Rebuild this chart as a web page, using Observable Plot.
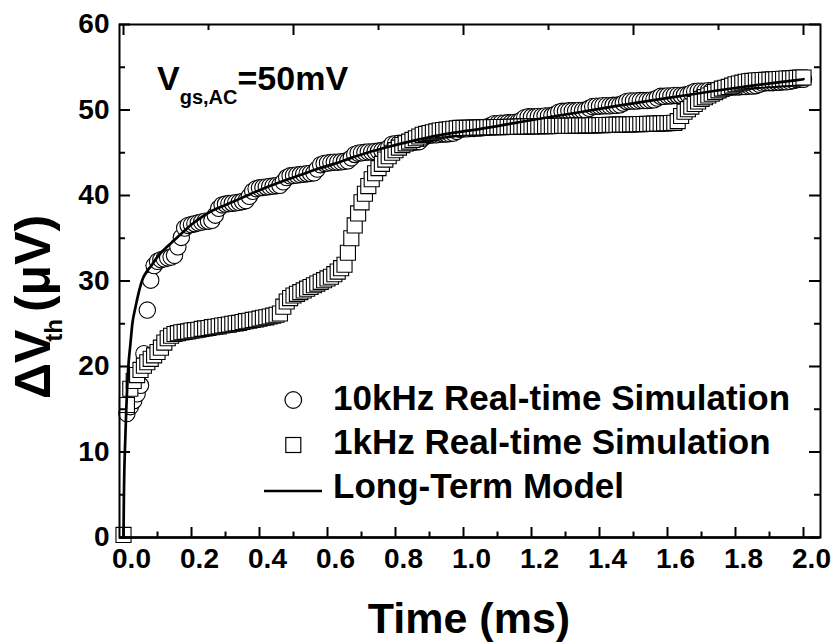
<!DOCTYPE html>
<html><head><meta charset="utf-8">
<script src="https://cdn.jsdelivr.net/npm/d3@7"></script>
<script src="https://cdn.jsdelivr.net/npm/@observablehq/plot@0.6"></script>
<style>
html,body{margin:0;padding:0;background:#fff;}
#chart svg{display:block;}
</style>
</head><body><div id="chart"></div>
<script>
// Sampling times (ms) shared by both simulations
const time = [
0,0.01,0.02,0.03,0.04,0.05,0.06,0.07,0.08,0.09,
0.1,0.11,0.12,0.13,0.14,0.15,0.16,0.17,0.18,0.19,
0.2,0.21,0.22,0.23,0.24,0.25,0.26,0.27,0.28,0.29,
0.3,0.31,0.32,0.33,0.34,0.35,0.36,0.37,0.38,0.39,
0.4,0.41,0.42,0.43,0.44,0.45,0.46,0.47,0.48,0.49,
0.5,0.51,0.52,0.53,0.54,0.55,0.56,0.57,0.58,0.59,
0.6,0.61,0.62,0.63,0.64,0.65,0.66,0.67,0.68,0.69,
0.7,0.71,0.72,0.73,0.74,0.75,0.76,0.77,0.78,0.79,
0.8,0.81,0.82,0.83,0.84,0.85,0.86,0.87,0.88,0.89,
0.9,0.91,0.92,0.93,0.94,0.95,0.96,0.97,0.98,0.99,
1.0,1.01,1.02,1.03,1.04,1.05,1.06,1.07,1.08,1.09,
1.1,1.11,1.12,1.13,1.14,1.15,1.16,1.17,1.18,1.19,
1.2,1.21,1.22,1.23,1.24,1.25,1.26,1.27,1.28,1.29,
1.3,1.31,1.32,1.33,1.34,1.35,1.36,1.37,1.38,1.39,
1.4,1.41,1.42,1.43,1.44,1.45,1.46,1.47,1.48,1.49,
1.5,1.51,1.52,1.53,1.54,1.55,1.56,1.57,1.58,1.59,
1.6,1.61,1.62,1.63,1.64,1.65,1.66,1.67,1.68,1.69,
1.7,1.71,1.72,1.73,1.74,1.75,1.76,1.77,1.78,1.79,
1.8,1.81,1.82,1.83,1.84,1.85,1.86,1.87,1.88,1.89,
1.9,1.91,1.92,1.93,1.94,1.95,1.96,1.97,1.98,1.99,
2.0];

// 10kHz real-time simulation (µV)
const sim10kHz = [
null,14.5,15.3,16.0,16.8,17.8,21.5,26.6,30.1,31.8,
32.3,32.5,32.6,32.7,32.8,33.0,34.0,35.1,36.2,36.5,
36.6,36.7,36.8,36.9,37.0,37.0,37.1,37.7,38.5,38.9,
39.0,39.05,39.1,39.15,39.2,39.3,39.4,39.9,40.5,40.8,
40.9,40.95,41.0,41.05,41.1,41.15,41.2,41.6,42.1,42.3,
42.35,42.4,42.45,42.5,42.55,42.6,42.65,43.1,43.6,43.75,
43.8,43.85,43.9,43.9,43.95,44.0,44.05,44.4,44.8,44.95,
45.0,45.05,45.1,45.1,45.15,45.2,45.25,45.3,45.6,46.0,
46.05,46.1,46.1,46.15,46.2,46.2,46.25,46.3,46.7,47.0,
47.05,47.1,47.1,47.15,47.2,47.2,47.25,47.3,47.5,47.75,
47.8,47.8,47.85,47.85,47.9,47.9,47.95,48.0,48.2,48.4,
48.4,48.45,48.45,48.5,48.5,48.55,48.6,48.8,49.1,49.2,
49.2,49.2,49.25,49.25,49.3,49.3,49.35,49.5,49.75,49.85,
49.85,49.9,49.9,49.9,49.95,49.95,50.0,50.2,50.4,50.45,
50.45,50.5,50.5,50.5,50.55,50.55,50.6,50.8,51.0,51.05,
51.05,51.05,51.1,51.1,51.1,51.15,51.2,51.4,51.6,51.6,
51.65,51.65,51.7,51.7,51.7,51.75,51.8,52.0,52.15,52.2,
52.2,52.2,52.25,52.25,52.3,52.3,52.35,52.5,52.65,52.7,
52.7,52.7,52.75,52.75,52.8,52.8,52.85,53.0,53.15,53.2,
53.2,53.2,53.25,53.25,53.3,53.3,53.35,53.45,53.55,53.6,
53.6];

// 1kHz real-time simulation (µV)
const sim1kHz = [
0.3,15.5,17.4,18.3,19.0,19.6,20.1,20.5,20.9,21.3,
21.7,22.2,22.8,23.3,23.6,23.8,23.9,24.0,24.05,24.1,
24.2,24.25,24.3,24.4,24.45,24.5,24.6,24.65,24.7,24.8,
24.85,24.9,25.0,25.05,25.1,25.2,25.3,25.35,25.45,25.5,
25.6,25.7,25.75,25.85,25.95,26.05,26.2,27.0,27.6,28.0,
28.3,28.5,28.7,28.9,29.1,29.3,29.5,29.7,29.9,30.1,
30.3,30.5,30.8,31.1,31.5,31.9,33.3,35.0,36.5,37.9,
39.2,40.2,41.1,41.9,42.6,43.2,43.7,44.2,44.6,45.0,
45.3,45.6,45.9,46.1,46.3,46.5,46.7,46.9,47.1,47.2,
47.3,47.4,47.5,47.6,47.65,47.7,47.75,47.8,47.85,47.9,
47.9,47.9,47.92,47.93,47.94,47.95,47.96,47.97,47.98,47.99,
48.0,48.0,48.01,48.02,48.03,48.04,48.05,48.06,48.07,48.08,
48.09,48.1,48.1,48.11,48.12,48.12,48.13,48.14,48.14,48.15,
48.16,48.16,48.17,48.18,48.18,48.19,48.2,48.2,48.21,48.22,
48.23,48.24,48.25,48.26,48.27,48.28,48.29,48.3,48.31,48.32,
48.33,48.34,48.35,48.36,48.37,48.38,48.4,48.41,48.43,48.44,
48.46,48.48,48.5,48.7,49.3,49.8,50.1,50.4,50.7,51.0,
51.3,51.5,51.7,51.9,52.1,52.3,52.5,52.6,52.7,52.85,
53.0,53.1,53.2,53.3,53.35,53.4,53.45,53.48,53.5,53.52,
53.55,53.58,53.6,53.62,53.65,53.68,53.7,53.72,53.75,53.78,
53.8];

// Long-term model curve
const modelTime  = [0,0.001,0.002,0.004,0.008,0.014,0.02,0.026,0.035,0.045,0.055,0.07,0.08,0.094,0.11,0.128,0.153,0.18,0.2,0.231,0.26,0.3,0.324,0.369,0.423,0.47,0.52,0.57,0.619,0.67,0.717,0.78,0.864,0.95,1.05,1.153,1.25,1.35,1.447,1.55,1.65,1.741,1.85,1.95,2.0];
const modelValue = [0,4.3,7.0,10.1,14.8,19.9,22.5,25.0,26.9,28.7,30.1,31.2,31.7,32.5,33.3,34.0,34.9,35.9,36.6,37.5,38.2,38.9,39.3,40.1,41.0,41.7,42.4,43.1,43.7,44.4,45.0,45.7,46.5,47.2,47.8,48.5,49.15,49.8,50.45,51.1,51.7,52.25,52.85,53.35,53.6];

// Axes ticks
const xMajorTicks = [0,0.2,0.4,0.6,0.8,1.0,1.2,1.4,1.6,1.8,2.0];
const xMinorTicks = [0.1,0.3,0.5,0.7,0.9,1.1,1.3,1.5,1.7,1.9];
const xTopMajorTicks = [0,0.5,1.0,1.5,2.0];
const xTopMinorTicks = [0.25,0.75,1.25,1.75];
const yMajorTicks = [0,10,20,30,40,50,60];
const yMinorTicks = [5,15,25,35,45,55];

const legendLabels = ["10kHz Real-time Simulation","1kHz Real-time Simulation","Long-Term Model"];
const xTitle = "Time (ms)";

const circles = time.map((t,i)=>({t, v: sim10kHz[i]})).filter(d=>d.v!=null);
const squares = time.map((t,i)=>({t, v: sim1kHz[i]}));
const model = modelTime.map((t,i)=>({t, v: modelValue[i]}));

const W=835, H=644, mL=119, mR=15, mT=24, mB=107;
const innerW = W-mL-mR, innerH = H-mT-mB;
const FONT = "'Liberation Sans', Arial, Helvetica, sans-serif";

const chart = Plot.plot({
  width: W, height: H,
  marginLeft: mL, marginRight: mR, marginTop: mT, marginBottom: mB,
  style: {fontFamily: FONT, fontWeight: "bold", background: "#fff", color: "#000", overflow: "visible"},
  x: {domain: [-0.0118, 2.05], label: null},
  y: {domain: [0, 60], label: null},
  marks: [
    Plot.dot(circles, {x:"t", y:"v", r:8.2, fill:"white", stroke:"black", strokeWidth:1.1}),
    Plot.dot(squares, {x:"t", y:"v", symbol:"square", r:8.5, fill:"white", stroke:"black", strokeWidth:1.1}),
    Plot.line(model, {x:"t", y:"v", stroke:"black", strokeWidth:2.7, curve:"monotone-x"}),
    Plot.frame({stroke:"black", strokeWidth:2}),
    Plot.ruleY([0], {stroke:"black", strokeWidth:2.6}),
    // bottom ticks (inward)
    Plot.tickX(xMajorTicks, {x: d=>d, insetTop: innerH-10, stroke:"black", strokeWidth:2}),
    Plot.tickX(xMinorTicks, {x: d=>d, insetTop: innerH-5.5, stroke:"black", strokeWidth:2}),
    // top ticks (inward)
    Plot.tickX(xTopMajorTicks, {x: d=>d, insetBottom: innerH-11, stroke:"black", strokeWidth:2}),
    Plot.tickX(xTopMinorTicks, {x: d=>d, insetBottom: innerH-6, stroke:"black", strokeWidth:2}),
    // left ticks (inward)
    Plot.tickY(yMajorTicks, {y: d=>d, insetRight: innerW-11, stroke:"black", strokeWidth:2}),
    Plot.tickY(yMinorTicks, {y: d=>d, insetRight: innerW-6, stroke:"black", strokeWidth:2}),
    // right ticks (inward)
    Plot.tickY(yMajorTicks, {y: d=>d, insetLeft: innerW-11, stroke:"black", strokeWidth:2}),
    Plot.tickY(yMinorTicks, {y: d=>d, insetLeft: innerW-6, stroke:"black", strokeWidth:2}),
    Plot.axisX(xMajorTicks, {tickSize:0, tickPadding:11, fontSize:28, dx:8, tickFormat: d3.format(".1f"), label:null}),
    Plot.axisY(yMajorTicks, {tickSize:0, tickPadding:10, fontSize:28, label:null})
  ]
});

const svg = d3.select(chart);
const ns = (sel) => sel.attr("font-family", FONT).attr("font-weight", "bold").attr("fill", "black").attr("text-anchor", "start");

// annotation V_gs,AC = 50mV
const ann = ns(svg.append("text")).attr("x", 157).attr("y", 90).attr("font-size", 34);
ann.append("tspan").text("V");
ann.append("tspan").attr("font-size", 20).attr("dy", 14).text("gs,AC");
ann.append("tspan").attr("dy", -14).text("=50mV");

// legend
const lg = svg.append("g");
lg.append("circle").attr("cx", 293.3).attr("cy", 400).attr("r", 8.3).attr("fill","white").attr("stroke","black").attr("stroke-width",1.2);
lg.append("rect").attr("x", 285.8).attr("y", 437.5).attr("width", 15).attr("height", 15).attr("fill","white").attr("stroke","black").attr("stroke-width",1.2);
lg.append("line").attr("x1", 264).attr("x2", 322).attr("y1", 491).attr("y2", 491).attr("stroke","black").attr("stroke-width",2.7);
[410, 454, 498].forEach((yb, i) => {
  ns(lg.append("text")).attr("x", 333).attr("y", yb).attr("font-size", 35).text(legendLabels[i]);
});

// x title
ns(svg.append("text")).attr("x", 469).attr("y", 633).attr("text-anchor","middle").attr("font-size", 43).text(xTitle);

// y title (rotated)
const yt = ns(svg.append("text")).attr("transform", "translate(50,399) rotate(-90)").attr("font-size", 50);
yt.append("tspan").text("\u0394V");
yt.append("tspan").attr("font-size", 24).attr("dx", -12).attr("dy", 12).text("th");
yt.append("tspan").attr("dx", 7).attr("dy", -12).text("(\u03bcV)");

document.getElementById("chart").appendChild(chart);
</script>
</body></html>
